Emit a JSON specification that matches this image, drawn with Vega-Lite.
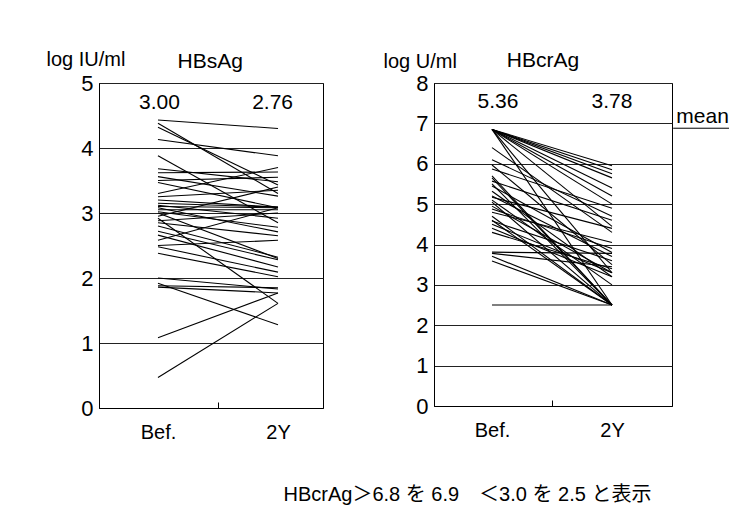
{
  "$schema": "https://vega.github.io/schema/vega-lite/v6.json",
  "background": "white",
  "padding": {"left": 45, "top": 48, "right": 10, "bottom": 8},
  "bounds": "flush",
  "spacing": 111,
  "config": {
    "font": "Liberation Sans",
    "view": {"stroke": "black", "strokeWidth": 1},
    "axis": {"domainColor": "black", "gridColor": "#222", "gridWidth": 1, "labelColor": "black", "labelFont": "Liberation Sans", "titleFont": "Liberation Sans", "titleFontWeight": "normal", "titleColor": "black", "titleFontSize": 20}
  },
  "title": {"text": "HBcrAg＞6.8 を 6.9　＜3.0 を 2.5 と表示", "orient": "bottom", "anchor": "start", "dx": 238, "offset": 42, "font": "Liberation Sans, Noto Sans CJK JP", "fontSize": 20, "fontWeight": "normal", "color": "black"},
  "datasets": {
    "hbs": [
      {"id":1,"year":0,"value":4.43},{"id":1,"year":2,"value":4.30},
      {"id":2,"year":0,"value":4.38},{"id":2,"year":2,"value":3.30},
      {"id":3,"year":0,"value":4.32},{"id":3,"year":2,"value":3.43},
      {"id":4,"year":0,"value":4.13},{"id":4,"year":2,"value":3.88},
      {"id":5,"year":0,"value":3.88},{"id":5,"year":2,"value":2.85},
      {"id":6,"year":0,"value":3.68},{"id":6,"year":2,"value":3.48},
      {"id":7,"year":0,"value":3.62},{"id":7,"year":2,"value":3.63},
      {"id":8,"year":0,"value":3.56},{"id":8,"year":2,"value":3.26},
      {"id":9,"year":0,"value":3.50},{"id":9,"year":2,"value":3.55},
      {"id":10,"year":0,"value":3.47},{"id":10,"year":2,"value":3.08},
      {"id":11,"year":0,"value":3.30},{"id":11,"year":2,"value":3.70},
      {"id":12,"year":0,"value":3.25},{"id":12,"year":2,"value":3.35},
      {"id":13,"year":0,"value":3.20},{"id":13,"year":2,"value":3.09},
      {"id":14,"year":0,"value":3.15},{"id":14,"year":2,"value":3.09},
      {"id":15,"year":0,"value":3.12},{"id":15,"year":2,"value":2.92},
      {"id":16,"year":0,"value":3.10},{"id":16,"year":2,"value":3.08},
      {"id":17,"year":0,"value":3.08},{"id":17,"year":2,"value":2.71},
      {"id":18,"year":0,"value":3.05},{"id":18,"year":2,"value":3.05},
      {"id":19,"year":0,"value":3.02},{"id":19,"year":2,"value":2.78},
      {"id":20,"year":0,"value":2.92},{"id":20,"year":2,"value":1.61},
      {"id":21,"year":0,"value":2.88},{"id":21,"year":2,"value":3.00},
      {"id":22,"year":0,"value":2.85},{"id":22,"year":2,"value":2.65},
      {"id":23,"year":0,"value":2.80},{"id":23,"year":2,"value":2.32},
      {"id":24,"year":0,"value":2.72},{"id":24,"year":2,"value":2.28},
      {"id":25,"year":0,"value":2.66},{"id":25,"year":2,"value":2.17},
      {"id":26,"year":0,"value":2.58},{"id":26,"year":2,"value":3.08},
      {"id":27,"year":0,"value":2.50},{"id":27,"year":2,"value":2.58},
      {"id":28,"year":0,"value":2.48},{"id":28,"year":2,"value":2.09},
      {"id":29,"year":0,"value":2.38},{"id":29,"year":2,"value":2.02},
      {"id":30,"year":0,"value":2.00},{"id":30,"year":2,"value":1.83},
      {"id":31,"year":0,"value":1.92},{"id":31,"year":2,"value":1.28},
      {"id":32,"year":0,"value":1.88},{"id":32,"year":2,"value":1.85},
      {"id":33,"year":0,"value":1.86},{"id":33,"year":2,"value":1.77},
      {"id":34,"year":0,"value":1.08},{"id":34,"year":2,"value":1.77},
      {"id":35,"year":0,"value":0.47},{"id":35,"year":2,"value":1.61},
      {"id":36,"year":0,"value":3.00},{"id":36,"year":2,"value":2.30},
      {"id":37,"year":0,"value":2.95},{"id":37,"year":2,"value":3.40}
    ],
    "hbcr": [
      {"id":1,"year":0,"value":6.85},{"id":1,"year":2,"value":5.95},
      {"id":2,"year":0,"value":6.85},{"id":2,"year":2,"value":5.85},
      {"id":3,"year":0,"value":6.85},{"id":3,"year":2,"value":5.75},
      {"id":4,"year":0,"value":6.85},{"id":4,"year":2,"value":5.65},
      {"id":5,"year":0,"value":6.85},{"id":5,"year":2,"value":5.40},
      {"id":6,"year":0,"value":6.85},{"id":6,"year":2,"value":5.20},
      {"id":7,"year":0,"value":6.85},{"id":7,"year":2,"value":5.00},
      {"id":8,"year":0,"value":6.85},{"id":8,"year":2,"value":4.45},
      {"id":9,"year":0,"value":6.85},{"id":9,"year":2,"value":3.30},
      {"id":10,"year":0,"value":6.85},{"id":10,"year":2,"value":2.50},
      {"id":11,"year":0,"value":6.40},{"id":11,"year":2,"value":4.30},
      {"id":12,"year":0,"value":6.10},{"id":12,"year":2,"value":4.70},
      {"id":13,"year":0,"value":5.97},{"id":13,"year":2,"value":3.50},
      {"id":14,"year":0,"value":5.87},{"id":14,"year":2,"value":4.90},
      {"id":15,"year":0,"value":5.70},{"id":15,"year":2,"value":2.50},
      {"id":16,"year":0,"value":5.57},{"id":16,"year":2,"value":4.60},
      {"id":17,"year":0,"value":5.45},{"id":17,"year":2,"value":3.80},
      {"id":18,"year":0,"value":5.32},{"id":18,"year":2,"value":3.20},
      {"id":19,"year":0,"value":5.17},{"id":19,"year":2,"value":4.40},
      {"id":20,"year":0,"value":5.05},{"id":20,"year":2,"value":2.50},
      {"id":21,"year":0,"value":4.88},{"id":21,"year":2,"value":3.90},
      {"id":22,"year":0,"value":4.70},{"id":22,"year":2,"value":2.50},
      {"id":23,"year":0,"value":4.58},{"id":23,"year":2,"value":3.60},
      {"id":24,"year":0,"value":4.50},{"id":24,"year":2,"value":3.30},
      {"id":25,"year":0,"value":3.81},{"id":25,"year":2,"value":3.78},
      {"id":26,"year":0,"value":3.71},{"id":26,"year":2,"value":2.50},
      {"id":27,"year":0,"value":3.59},{"id":27,"year":2,"value":2.50},
      {"id":28,"year":0,"value":2.50},{"id":28,"year":2,"value":2.50},
      {"id":29,"year":0,"value":4.30},{"id":29,"year":2,"value":3.40},
      {"id":30,"year":0,"value":4.80},{"id":30,"year":2,"value":4.05},
      {"id":31,"year":0,"value":5.50},{"id":31,"year":2,"value":2.50},
      {"id":32,"year":0,"value":5.20},{"id":32,"year":2,"value":3.70},
      {"id":33,"year":0,"value":4.95},{"id":33,"year":2,"value":3.30},
      {"id":34,"year":0,"value":4.60},{"id":34,"year":2,"value":2.50},
      {"id":35,"year":0,"value":4.40},{"id":35,"year":2,"value":3.20},
      {"id":36,"year":0,"value":5.10},{"id":36,"year":2,"value":3.00},
      {"id":37,"year":0,"value":3.78},{"id":37,"year":2,"value":3.45},
      {"id":38,"year":0,"value":5.65},{"id":38,"year":2,"value":2.50}
    ]
  },
  "hconcat": [
    {
      "width": 224,
      "height": 325,
      "layer": [
        {
          "data": {"name": "hbs"},
          "mark": {"type": "line", "color": "black", "strokeWidth": 1.1},
          "encoding": {
            "x": {"field": "year", "type": "quantitative",
              "scale": {"domain": [-0.983, 2.75], "nice": false, "zero": false},
              "axis": {"values": [0, 1, 2], "labelExpr": "datum.value == 0 ? 'Bef.' : datum.value == 2 ? '2Y' : ''", "grid": false, "title": null, "tickSize": -6, "tickColor": {"condition": {"test": "datum.value == 1", "value": "black"}, "value": "transparent"}, "labelPadding": 20, "labelFontSize": 20}},
            "y": {"field": "value", "type": "quantitative",
              "scale": {"domain": [0, 5], "nice": false},
              "axis": {"values": [0, 1, 2, 3, 4, 5], "format": "d", "grid": true, "ticks": false, "labelPadding": 6, "labelFontSize": 22, "title": "log IU/ml", "titleAngle": 0, "titleAlign": "left", "titleBaseline": "alphabetic", "titleX": -53, "titleY": -18}},
            "detail": {"field": "id", "type": "nominal"}
          }
        },
        {
          "data": {"values": [
            {"year": 0.025, "value": 4.69, "label": "3.00"},
            {"year": 1.91, "value": 4.69, "label": "2.76"},
            {"year": 0.87, "value": 5.32, "label": "HBsAg"}
          ]},
          "mark": {"type": "text", "fontSize": 21, "color": "black", "baseline": "middle"},
          "encoding": {
            "x": {"field": "year", "type": "quantitative"},
            "y": {"field": "value", "type": "quantitative"},
            "text": {"field": "label"}
          }
        }
      ]
    },
    {
      "width": 238,
      "height": 323,
      "layer": [
        {
          "data": {"name": "hbcr"},
          "mark": {"type": "line", "color": "black", "strokeWidth": 1.1},
          "encoding": {
            "x": {"field": "year", "type": "quantitative",
              "scale": {"domain": [-0.967, 3.0], "nice": false, "zero": false},
              "axis": {"values": [0, 1, 2], "labelExpr": "datum.value == 0 ? 'Bef.' : datum.value == 2 ? '2Y' : ''", "grid": false, "title": null, "tickSize": -6, "tickColor": {"condition": {"test": "datum.value == 1", "value": "black"}, "value": "transparent"}, "labelPadding": 20, "labelFontSize": 20}},
            "y": {"field": "value", "type": "quantitative",
              "scale": {"domain": [0, 8], "nice": false},
              "axis": {"values": [0, 1, 2, 3, 4, 5, 6, 7, 8], "format": "d", "grid": true, "ticks": false, "labelPadding": 6, "labelFontSize": 22, "title": "log U/ml", "titleAngle": 0, "titleAlign": "left", "titleBaseline": "alphabetic", "titleX": -51, "titleY": -16}},
            "detail": {"field": "id", "type": "nominal"}
          }
        },
        {
          "data": {"values": [
            {"year": 0.1, "value": 7.52, "label": "5.36"},
            {"year": 2.0, "value": 7.52, "label": "3.78"},
            {"year": 0.85, "value": 8.54, "label": "HBcrAg"},
            {"year": 3.51, "value": 7.17, "label": "mean"}
          ]},
          "mark": {"type": "text", "fontSize": 21, "color": "black", "baseline": "middle"},
          "encoding": {
            "x": {"field": "year", "type": "quantitative"},
            "y": {"field": "value", "type": "quantitative"},
            "text": {"field": "label"}
          }
        },
        {
          "data": {"values": [{"year": 3.02, "year2": 3.95, "value": 6.88}]},
          "mark": {"type": "rule", "color": "black", "strokeWidth": 1},
          "encoding": {
            "x": {"field": "year", "type": "quantitative"},
            "x2": {"field": "year2"},
            "y": {"field": "value", "type": "quantitative"}
          }
        }
      ]
    }
  ]
}
